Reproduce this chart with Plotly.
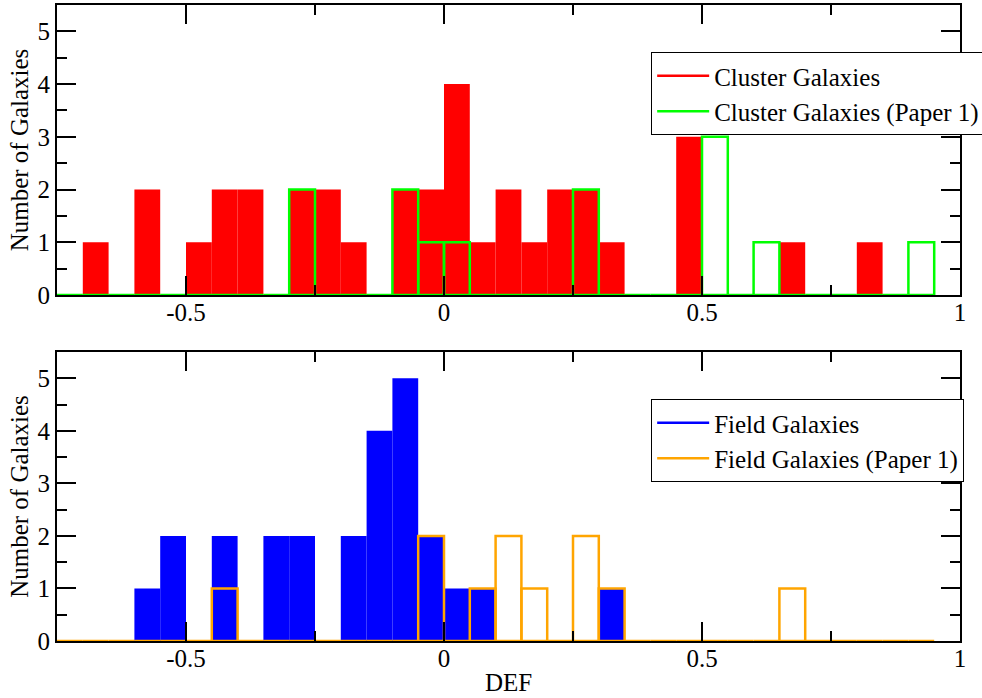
import plotly.graph_objects as go

# Bin left edges (bin width 0.05)
bin_left = [-0.75, -0.70, -0.65, -0.60, -0.55, -0.50, -0.45, -0.40, -0.35, -0.30,
            -0.25, -0.20, -0.15, -0.10, -0.05, 0.00, 0.05, 0.10, 0.15, 0.20,
            0.25, 0.30, 0.35, 0.40, 0.45, 0.50, 0.55, 0.60, 0.65, 0.70,
            0.75, 0.80, 0.85, 0.90]
bin_width = 0.05

cluster = [0, 1, 0, 2, 0, 1, 2, 2, 0, 2,
           2, 1, 0, 2, 2, 4, 1, 2, 1, 2,
           2, 1, 0, 0, 3, 0, 0, 0, 1, 0,
           0, 1, 0, 0]
cluster_p1 = [0, 0, 0, 0, 0, 0, 0, 0, 0, 2,
              0, 0, 0, 2, 1, 1, 0, 0, 0, 0,
              2, 0, 0, 0, 0, 3, 0, 1, 0, 0,
              0, 0, 0, 1]
field = [0, 0, 0, 1, 2, 0, 2, 0, 2, 2,
         0, 2, 4, 5, 2, 1, 1, 0, 0, 0,
         0, 1, 0, 0, 0, 0, 0, 0, 0, 0,
         0, 0, 0, 0]
field_p1 = [0, 0, 0, 0, 0, 0, 1, 0, 0, 0,
            0, 0, 0, 0, 2, 0, 1, 2, 1, 0,
            2, 1, 0, 0, 0, 0, 0, 0, 1, 0,
            0, 0, 0, 0]

x_tickvals = [-0.5, 0, 0.5, 1]
x_ticktext = ["-0.5", "0", "0.5", "1"]
y_tickvals = [0, 1, 2, 3, 4, 5]

FONT = "Liberation Serif"
FS = 25

fig = go.Figure()

def filled(y, color, xa, ya):
    return go.Bar(x=bin_left, y=y, width=bin_width, offset=0,
                  marker=dict(color=color, line=dict(width=0)),
                  showlegend=False, xaxis=xa, yaxis=ya)

def outline(y, color, xa, ya):
    return go.Bar(x=bin_left, y=y, width=bin_width, offset=0,
                  marker=dict(color="rgba(0,0,0,0)", line=dict(width=2.5, color=color)),
                  showlegend=False, xaxis=xa, yaxis=ya)

fig.add_trace(filled(cluster, "#ff0000", "x", "y"))
fig.add_trace(outline(cluster_p1, "#00ff00", "x", "y"))
fig.add_trace(filled(field, "#0000ff", "x2", "y2"))
fig.add_trace(outline(field_p1, "#ffa500", "x2", "y2"))

# legend entries (line samples)
fig.add_trace(go.Scatter(x=[None], y=[None], mode="lines", line=dict(color="#ff0000", width=2.5),
                         name="Cluster Galaxies", legend="legend", xaxis="x", yaxis="y"))
fig.add_trace(go.Scatter(x=[None], y=[None], mode="lines", line=dict(color="#00ff00", width=2.5),
                         name="Cluster Galaxies (Paper 1)", legend="legend", xaxis="x", yaxis="y"))
fig.add_trace(go.Scatter(x=[None], y=[None], mode="lines", line=dict(color="#0000ff", width=2.5),
                         name="Field Galaxies", legend="legend2", xaxis="x2", yaxis="y2"))
fig.add_trace(go.Scatter(x=[None], y=[None], mode="lines", line=dict(color="#ffa500", width=2.5),
                         name="Field Galaxies (Paper 1)", legend="legend2", xaxis="x2", yaxis="y2"))

xcommon = dict(range=[-0.75, 1.0], tickvals=x_tickvals, ticktext=x_ticktext,
               showline=True, linecolor="black", linewidth=2, mirror="ticks",
               ticks="inside", ticklen=19, tickwidth=1.5, tickcolor="black",
               minor=dict(tickvals=[-0.25, 0.25, 0.75], ticks="inside", ticklen=10,
                          tickwidth=1.5, tickcolor="black"),
               showgrid=False, zeroline=False, ticklabelstandoff=-6,
               tickfont=dict(family=FONT, size=FS, color="black"))
ycommon = dict(range=[0, 5.5], tickvals=y_tickvals,
               showline=True, linecolor="black", linewidth=2, mirror="ticks",
               ticks="inside", ticklen=19, tickwidth=1.5, tickcolor="black",
               minor=dict(dtick=0.5, ticks="inside", ticklen=10, tickwidth=1.5, tickcolor="black"),
               showgrid=False, zeroline=False,
               tickfont=dict(family=FONT, size=FS, color="black"),
               title=dict(text="Number of Galaxies", standoff=2,
                          font=dict(family=FONT, size=FS, color="black")))

legend_style = dict(xanchor="left", yanchor="top", itemwidth=52,
                    bordercolor="black", borderwidth=1, bgcolor="white",
                    font=dict(family=FONT, size=FS, color="black"))

fig.update_layout(
    width=982, height=698,
    margin=dict(l=57, r=22, t=5, b=57, autoexpand=False),
    paper_bgcolor="white", plot_bgcolor="white",
    barmode="overlay",
    font=dict(family=FONT, size=FS, color="black"),
    xaxis=dict(domain=[0, 1], anchor="y", **xcommon),
    yaxis=dict(domain=[0.544, 1], anchor="x", **ycommon),
    xaxis2=dict(domain=[0, 1], anchor="y2",
                title=dict(text="DEF", font=dict(family=FONT, size=FS, color="black"), standoff=2),
                **xcommon),
    yaxis2=dict(domain=[0, 0.4544], anchor="x2", **ycommon),
    legend=dict(x=0.658, y=0.926, **legend_style),
    legend2=dict(x=0.658, y=0.3805, **legend_style),
)

fig.write_html("out.html")
